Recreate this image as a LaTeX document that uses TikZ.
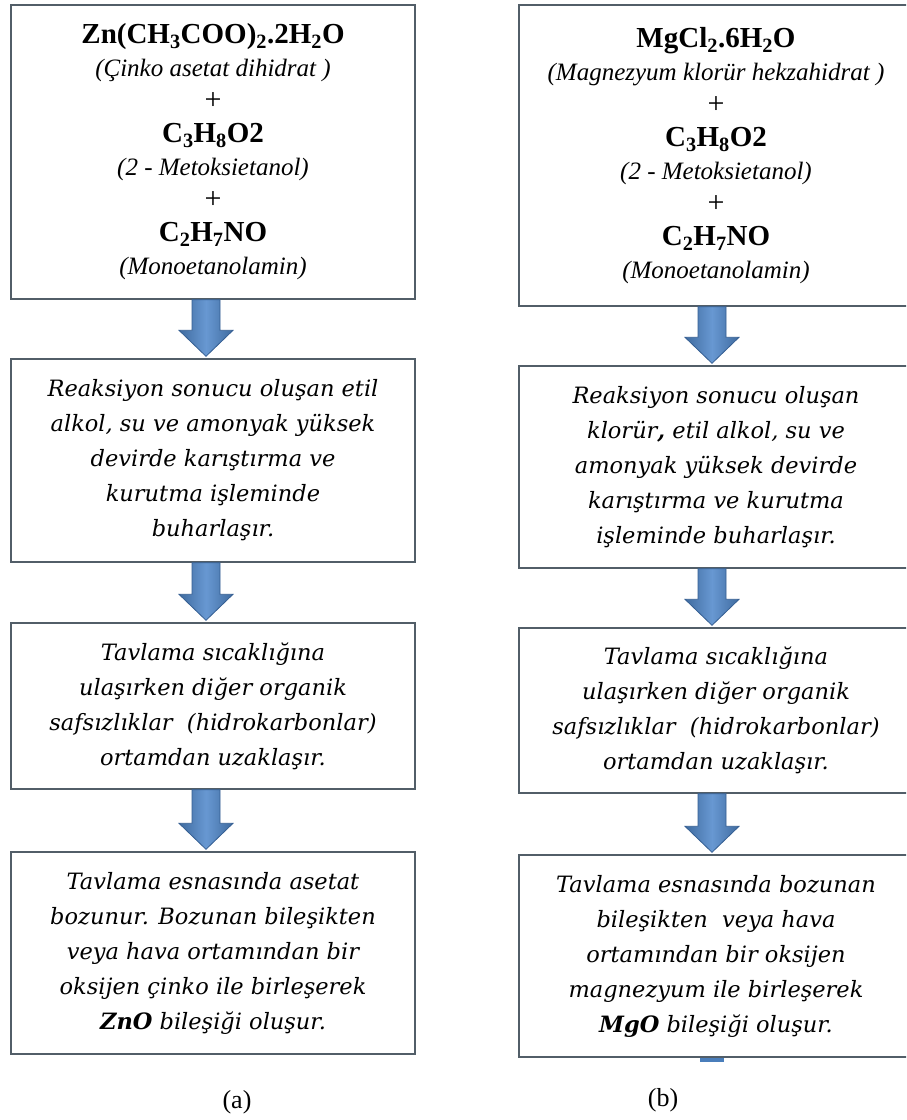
\documentclass[tikz,border=0pt]{standalone}
\usepackage{fontspec}
\setmainfont{Liberation Serif}
\newfontfamily\bodyfont{DejaVu Serif}
\usetikzlibrary{calc}

\definecolor{boxline}{RGB}{82,94,104}
\definecolor{arrowfill}{RGB}{74,126,187}
\definecolor{arrowline}{RGB}{52,94,146}
\definecolor{arrowlight}{RGB}{104,152,210}

% bold formula line, italic name line and plus sign of the starting mixtures
\newcommand\chemline[1]{{\fontsize{29}{33}\selectfont\bfseries #1}}
\newcommand\nameline[1]{{\itshape #1}}
\newcommand\plusline{{\fontsize{30}{33}\selectfont +}}

% block arrow from the bottom of one box to the top of the next,
% shifted sideways by #3
\newcommand\flowarrow[3]{%
  \draw[blockarrow] let \p1=(#1.south), \p2=(#2.north) in
    ({\x1+(#3)-14pt},\y1) -- ({\x1+(#3)-14pt},{\y2+28pt})
    -- ({\x1+(#3)-27pt},{\y2+28pt}) -- ({\x1+(#3)},{\y2+2pt})
    -- ({\x1+(#3)+27pt},{\y2+28pt}) -- ({\x1+(#3)+14pt},{\y2+28pt})
    -- ({\x1+(#3)+14pt},\y1) -- cycle;}

\tikzset{
  stagebox/.style={draw=boxline, line width=1.4pt, fill=white, rectangle,
    align=center, inner sep=0pt},
  formulabox/.style={stagebox, font=\fontsize{25}{33}\selectfont},
  textbox/.style={stagebox, font=\bodyfont\itshape\fontsize{22.5}{35}\selectfont},
  blockarrow/.style={draw=arrowline, line width=0.8pt,
    left color=arrowfill!85!black, right color=arrowfill!85!black,
    middle color=arrowlight},
  caption/.style={font=\fontsize{26}{30}\selectfont}
}

\begin{document}
\begin{tikzpicture}[x=1pt, y=-1pt]
\useasboundingbox (0,0) rectangle (906,1120);
\fill[white] (0,0) rectangle (906,1120);
\clip (0,0) rectangle (906,1120);

% ---------- (a) zinc acetate route ----------
\node[formulabox, minimum width=404pt, minimum height=294pt] (a1) at (213,152) {%
  \chemline{Zn(CH\textsubscript{3}COO)\textsubscript{2}.2H\textsubscript{2}O}\\
  \nameline{(Çinko asetat dihidrat )}\\
  \plusline\\
  \chemline{C\textsubscript{3}H\textsubscript{8}O2}\\
  \nameline{(2 - Metoksietanol)}\\
  \plusline\\
  \chemline{C\textsubscript{2}H\textsubscript{7}NO}\\
  \nameline{(Monoetanolamin)}};

\node[textbox, minimum width=404pt, minimum height=203pt] (a2) at (213,460.5) {%
  Reaksiyon sonucu oluşan etil\\
  alkol, su ve amonyak yüksek\\
  devirde karıştırma ve\\
  kurutma işleminde\\
  buharlaşır.};

\node[textbox, minimum width=404pt, minimum height=166pt] (a3) at (213,706) {%
  Tavlama sıcaklığına\\
  ulaşırken diğer organik\\
  safsızlıklar\ \ (hidrokarbonlar)\\
  ortamdan uzaklaşır.};

\node[textbox, minimum width=404pt, minimum height=202pt] (a4) at (213,953) {%
  Tavlama esnasında asetat\\
  bozunur. Bozunan bileşikten\\
  veya hava ortamından bir\\
  oksijen çinko ile birleşerek\\
  \textbf{ZnO} bileşiği oluşur.};

\flowarrow{a1}{a2}{-7pt}
\flowarrow{a2}{a3}{-7pt}
\flowarrow{a3}{a4}{-7pt}

\node[caption] (capa) at (237,1102) {(a)};

% ---------- (b) magnesium chloride route ----------
\node[formulabox, minimum width=394pt, minimum height=301pt] (b1) at (716,155.5) {%
  \chemline{MgCl\textsubscript{2}.6H\textsubscript{2}O}\\
  \nameline{(Magnezyum klorür hekzahidrat )}\\
  \plusline\\
  \chemline{C\textsubscript{3}H\textsubscript{8}O2}\\
  \nameline{(2 - Metoksietanol)}\\
  \plusline\\
  \chemline{C\textsubscript{2}H\textsubscript{7}NO}\\
  \nameline{(Monoetanolamin)}};

\node[textbox, minimum width=394pt, minimum height=202pt] (b2) at (716,467) {%
  Reaksiyon sonucu oluşan\\
  klorür\textbf{,} etil\ alkol, su ve\\
  amonyak yüksek devirde\\
  karıştırma ve kurutma\\
  işleminde buharlaşır.};

\node[textbox, minimum width=394pt, minimum height=165pt] (b3) at (716,710.5) {%
  Tavlama sıcaklığına\\
  ulaşırken diğer organik\\
  safsızlıklar\ \ (hidrokarbonlar)\\
  ortamdan uzaklaşır.};

\node[textbox, minimum width=394pt, minimum height=202pt] (b4) at (716,956) {%
  Tavlama esnasında bozunan\\
  bileşikten\ \ veya hava\\
  ortamından bir oksijen\\
  magnezyum ile birleşerek\\
  \textbf{MgO} bileşiği oluşur.};

% short arrow stub just visible under the last box
\fill[arrowfill] ($(b4.south)+(-16pt,-0.7pt)$) rectangle ($(b4.south)+(8pt,-4pt)$);

\flowarrow{b1}{b2}{-4pt}
\flowarrow{b2}{b3}{-4pt}
\flowarrow{b3}{b4}{-4pt}

\node[caption] (capb) at (663,1100) {(b)};
\end{tikzpicture}
\end{document}
